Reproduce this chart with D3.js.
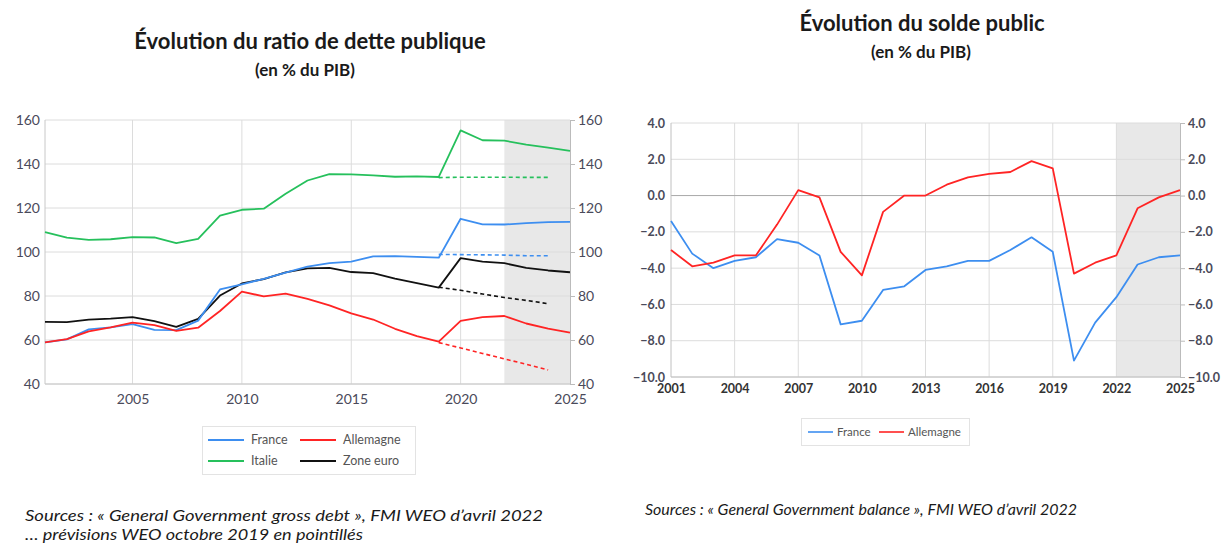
<!DOCTYPE html>
<html><head><meta charset="utf-8">
<script src="https://cdn.jsdelivr.net/npm/d3@7"></script>
<style>
body{margin:0;background:#fff;}
svg{display:block;font-family:Lato,"Open Sans",sans-serif;}
</style></head><body>
<svg id="c" width="1224" height="544"></svg>
<script>
// ---------- DATA ----------
const years = d3.range(2001, 2026);
const debtFrance   = [58.9,60.3,64.8,65.7,67.2,64.6,64.5,68.8,83.0,85.3,87.8,90.6,93.4,94.9,95.6,98.0,98.1,97.8,97.4,115.1,112.6,112.5,113.1,113.6,113.7];
const debtGermany  = [58.9,60.4,63.9,65.7,67.9,66.8,64.1,65.6,73.2,82.0,79.8,81.1,78.7,75.7,72.1,69.3,65.1,61.8,59.3,68.7,70.4,70.9,67.5,65.2,63.3];
const debtItaly    = [109.0,106.5,105.5,105.8,106.8,106.6,104.0,106.0,116.5,119.2,119.7,126.5,132.5,135.4,135.3,134.8,134.2,134.4,134.1,155.3,150.8,150.6,148.8,147.4,146.0];
const debtEuro     = [68.2,68.1,69.3,69.7,70.4,68.6,66.0,69.6,80.2,85.7,87.7,90.7,92.6,92.8,90.9,90.4,87.9,85.8,83.8,97.2,95.6,94.9,92.8,91.6,90.8];
// WEO October 2019 forecasts (dotted)
const fcYears      = [2019,2020,2021,2022,2023,2024];
const fcFrance     = [98.9,98.8,98.7,98.6,98.3,98.3];
const fcGermany    = [58.8,56.4,53.9,51.4,49.0,46.4];
const fcItaly      = [133.8,134.0,134.0,134.0,133.9,133.9];
const fcEuro       = [84.0,82.6,80.9,79.3,78.0,76.5];
const balFrance    = [-1.4,-3.2,-4.0,-3.6,-3.4,-2.4,-2.6,-3.3,-7.1,-6.9,-5.2,-5.0,-4.1,-3.9,-3.6,-3.6,-3.0,-2.3,-3.1,-9.1,-7.0,-5.6,-3.8,-3.4,-3.3];
const balGermany   = [-3.0,-3.9,-3.7,-3.3,-3.3,-1.6,0.3,-0.1,-3.1,-4.4,-0.9,0.0,0.0,0.6,1.0,1.2,1.3,1.9,1.5,-4.3,-3.7,-3.3,-0.7,-0.1,0.3];
const debtTicksX   = [2005,2010,2015,2020,2025];
const debtTicksY   = [40,60,80,100,120,140,160];
const balTicksX    = [2001,2004,2007,2010,2013,2016,2019,2022,2025];
const balTicksY    = [-10,-8,-6,-4,-2,0,2,4];
const forecastStart = 2022;

const C = {France:"#3d8ef0", Allemagne:"#ff2424", Italie:"#26c05c", Euro:"#111111"};
const svg = d3.select("#c");
const gridCol = "#dcdcdc";

// ---------- LEFT CHART ----------
{
  const L = {x0:45, x1:570, y0:120, y1:384};
  const x = d3.scaleLinear().domain([2001,2025]).range([L.x0,L.x1]);
  const y = d3.scaleLinear().domain([40,160]).range([L.y1,L.y0]);
  const g = svg.append("g");
  g.append("rect").attr("x",x(forecastStart)).attr("y",L.y0).attr("width",x(2025)-x(forecastStart)).attr("height",L.y1-L.y0).attr("fill","#e8e8e8");
  g.selectAll(".gy").data(debtTicksY).join("line").attr("x1",L.x0).attr("x2",L.x1).attr("y1",d=>y(d)).attr("y2",d=>y(d)).attr("stroke",gridCol);
  g.selectAll(".gx").data(debtTicksX.slice(0,-1)).join("line").attr("x1",d=>x(d)).attr("x2",d=>x(d)).attr("y1",L.y0).attr("y2",L.y1).attr("stroke",gridCol);
  g.append("line").attr("x1",L.x0).attr("x2",L.x0).attr("y1",L.y0).attr("y2",L.y1).attr("stroke","#c8c8c8");
  g.append("line").attr("x1",L.x0).attr("x2",L.x1).attr("y1",L.y1).attr("y2",L.y1).attr("stroke","#c8c8c8");
  const ax = g.append("g").attr("transform",`translate(${L.x1},0)`).call(d3.axisRight(y).tickValues(debtTicksY).tickSize(5).tickPadding(3));
  ax.select(".domain").attr("stroke","#bbbbbb");
  ax.selectAll("line").attr("stroke","#bbbbbb");
  ax.selectAll("text").attr("font-size",14).attr("fill","#4a4a5a").attr("font-family","Lato");
  const al = g.append("g").attr("transform",`translate(${L.x0},0)`).call(d3.axisLeft(y).tickValues(debtTicksY).tickSize(0).tickPadding(5));
  al.select(".domain").remove();
  al.selectAll("text").attr("font-size",14).attr("fill","#4a4a5a").attr("font-family","Lato");
  const ab = g.append("g").attr("transform",`translate(0,${L.y1})`).call(d3.axisBottom(x).tickValues(debtTicksX).tickFormat(d3.format("d")).tickSize(0).tickPadding(10));
  ab.select(".domain").remove();
  ab.selectAll("text").attr("font-size",14).attr("fill","#4a4a5a").attr("font-family","Lato");

  const line = d3.line().x((d,i)=>x(years[i])).y(d=>y(d));
  const fline = d3.line().x((d,i)=>x(fcYears[i])).y(d=>y(d));
  [[fcItaly,C.Italie],[fcFrance,C.France],[fcEuro,C.Euro],[fcGermany,C.Allemagne]].forEach(([s,c])=>{
    g.append("path").attr("d",fline(s)).attr("fill","none").attr("stroke",c).attr("stroke-width",1.6).attr("stroke-dasharray","4,3");
  });
  [[debtItaly,C.Italie],[debtEuro,C.Euro],[debtFrance,C.France],[debtGermany,C.Allemagne]].forEach(([s,c])=>{
    g.append("path").attr("d",line(s)).attr("fill","none").attr("stroke",c).attr("stroke-width",1.8).attr("stroke-linejoin","round");
  });

  // legend
  const lg = svg.append("g");
  lg.append("rect").attr("x",202.5).attr("y",426.5).attr("width",213).attr("height",48).attr("fill","#fff").attr("stroke","#e3e3e3");
  const items = [["France",C.France,208,440],["Allemagne",C.Allemagne,300,440],["Italie",C.Italie,208,461],["Zone euro",C.Euro,300,461]];
  items.forEach(([t,c,lx,ly])=>{
    lg.append("line").attr("x1",lx).attr("x2",lx+36).attr("y1",ly).attr("y2",ly).attr("stroke",c).attr("stroke-width",1.8);
    lg.append("text").attr("x",lx+43).attr("y",ly+4).attr("font-size",12.5).attr("fill","#555").text(t);
  });

  svg.append("text").attr("x",310).attr("y",49).attr("text-anchor","middle").attr("font-size",22).attr("font-weight","bold").attr("fill","#1a1a1a").text("Évolution du ratio de dette publique");
  svg.append("text").attr("x",305).attr("y",76).attr("text-anchor","middle").attr("font-size",17).attr("font-weight","bold").attr("fill","#1a1a1a").text("(en % du PIB)");
  svg.append("text").attr("x",25).attr("y",521).attr("font-size",15).attr("font-style","italic").attr("fill","#1a1a1a").attr("textLength",518).attr("lengthAdjust","spacingAndGlyphs").text("Sources : « General Government gross debt », FMI WEO d’avril 2022");
  svg.append("text").attr("x",25).attr("y",540).attr("font-size",15).attr("font-style","italic").attr("fill","#1a1a1a").attr("textLength",338).attr("lengthAdjust","spacingAndGlyphs").text("… prévisions WEO octobre 2019 en pointillés");
}

// ---------- RIGHT CHART ----------
{
  const R = {x0:671, x1:1180, y0:123, y1:377};
  const x = d3.scaleLinear().domain([2001,2025]).range([R.x0,R.x1]);
  const y = d3.scaleLinear().domain([-10,4]).range([R.y1,R.y0]);
  const g = svg.append("g");
  g.append("rect").attr("x",x(forecastStart)).attr("y",R.y0).attr("width",x(2025)-x(forecastStart)).attr("height",R.y1-R.y0).attr("fill","#e8e8e8");
  g.selectAll(".gy").data(balTicksY.filter(d=>d!==0)).join("line").attr("x1",R.x0).attr("x2",R.x1).attr("y1",d=>y(d)).attr("y2",d=>y(d)).attr("stroke",gridCol);
  g.selectAll(".gx").data(balTicksX.slice(1,-1)).join("line").attr("x1",d=>x(d)).attr("x2",d=>x(d)).attr("y1",R.y0).attr("y2",R.y1).attr("stroke",gridCol);
  g.append("line").attr("x1",R.x0).attr("x2",R.x1).attr("y1",y(0)).attr("y2",y(0)).attr("stroke","#a8a8a8");
  g.append("line").attr("x1",R.x0).attr("x2",R.x0).attr("y1",R.y0).attr("y2",R.y1).attr("stroke","#c0c0c0");
  g.append("line").attr("x1",R.x0).attr("x2",R.x1).attr("y1",R.y1).attr("y2",R.y1).attr("stroke","#c0c0c0");
  const fmt = d3.format(".1f");
  const ax = g.append("g").attr("transform",`translate(${R.x1},0)`).call(d3.axisRight(y).tickValues(balTicksY).tickFormat(fmt).tickSize(5).tickPadding(3));
  ax.select(".domain").attr("stroke","#bbbbbb");
  ax.selectAll("line").attr("stroke","#bbbbbb");
  ax.selectAll("text").attr("font-size",12.5).attr("font-weight","bold").attr("fill","#4a4a5a").attr("font-family","Lato");
  const al = g.append("g").attr("transform",`translate(${R.x0},0)`).call(d3.axisLeft(y).tickValues(balTicksY).tickFormat(fmt).tickSize(0).tickPadding(6));
  al.select(".domain").remove();
  al.selectAll("text").attr("font-size",12.5).attr("font-weight","bold").attr("fill","#4a4a5a").attr("font-family","Lato");
  const ab = g.append("g").attr("transform",`translate(0,${R.y1})`).call(d3.axisBottom(x).tickValues(balTicksX).tickFormat(d3.format("d")).tickSize(0).tickPadding(7));
  ab.select(".domain").remove();
  ab.selectAll("text").attr("font-size",12.5).attr("font-weight","bold").attr("fill","#333").attr("font-family","Lato");

  const line = d3.line().x((d,i)=>x(years[i])).y(d=>y(d));
  [[balFrance,C.France],[balGermany,C.Allemagne]].forEach(([s,c])=>{
    g.append("path").attr("d",line(s)).attr("fill","none").attr("stroke",c).attr("stroke-width",1.8).attr("stroke-linejoin","round");
  });

  const lg = svg.append("g");
  lg.append("rect").attr("x",801.5).attr("y",418.5).attr("width",168).attr("height",27).attr("fill","#fff").attr("stroke","#e3e3e3");
  [["France",C.France,808],["Allemagne",C.Allemagne,879]].forEach(([t,c,lx])=>{
    lg.append("line").attr("x1",lx).attr("x2",lx+25).attr("y1",432).attr("y2",432).attr("stroke",c).attr("stroke-width",1.6);
    lg.append("text").attr("x",lx+29).attr("y",436).attr("font-size",11.5).attr("fill","#555").text(t);
  });

  svg.append("text").attr("x",922).attr("y",31).attr("text-anchor","middle").attr("font-size",22).attr("font-weight","bold").attr("fill","#1a1a1a").text("Évolution du solde public");
  svg.append("text").attr("x",921).attr("y",58).attr("text-anchor","middle").attr("font-size",17).attr("font-weight","bold").attr("fill","#1a1a1a").text("(en % du PIB)");
  svg.append("text").attr("x",645).attr("y",515).attr("font-size",15).attr("font-style","italic").attr("fill","#1a1a1a").attr("textLength",432).attr("lengthAdjust","spacingAndGlyphs").text("Sources : « General Government balance », FMI WEO d’avril 2022");
}
</script>
</body></html>
